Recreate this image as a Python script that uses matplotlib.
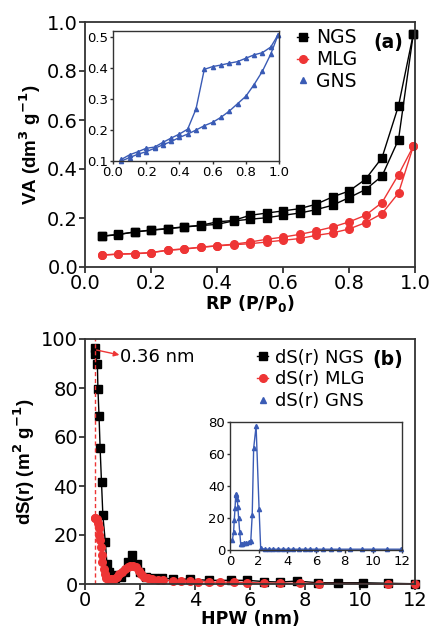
import numpy as np
import matplotlib
matplotlib.use("Agg")
import matplotlib.pyplot as plt
from matplotlib.ticker import FormatStrFormatter

plt.rcParams['font.family'] = ['DejaVu Sans']

# ---- (a) isotherms ----
rp_ads = [0.05, 0.1, 0.15, 0.2, 0.25, 0.3, 0.35, 0.4, 0.45, 0.5, 0.55, 0.6,
          0.65, 0.7, 0.75, 0.8, 0.85, 0.9, 0.95, 0.995]
rp_des = [0.995, 0.95, 0.9, 0.85, 0.8, 0.75, 0.7, 0.65, 0.6, 0.55, 0.5, 0.45,
          0.4, 0.35, 0.3, 0.25, 0.2, 0.15, 0.1, 0.05]

ngs_ads = [0.125, 0.132, 0.143, 0.150, 0.156, 0.163, 0.169, 0.174, 0.188, 0.195,
           0.201, 0.211, 0.220, 0.234, 0.252, 0.283, 0.316, 0.371, 0.520, 0.952]
ngs_des = [0.952, 0.658, 0.446, 0.358, 0.310, 0.286, 0.256, 0.238, 0.229, 0.220,
           0.211, 0.190, 0.184, 0.170, 0.164, 0.157, 0.151, 0.143, 0.133, 0.126]

mlg_ads = [0.048, 0.052, 0.054, 0.058, 0.068, 0.073, 0.080, 0.086, 0.091, 0.095,
           0.102, 0.109, 0.116, 0.129, 0.139, 0.155, 0.181, 0.218, 0.302, 0.493]
mlg_des = [0.493, 0.377, 0.263, 0.211, 0.184, 0.163, 0.147, 0.133, 0.122, 0.113,
           0.102, 0.093, 0.087, 0.081, 0.074, 0.069, 0.059, 0.055, 0.053, 0.049]

gns_ads = [0.100, 0.111, 0.122, 0.130, 0.141, 0.152, 0.163, 0.176, 0.187, 0.200,
           0.214, 0.225, 0.241, 0.261, 0.285, 0.309, 0.347, 0.390, 0.445, 0.508]
gns_des = [0.508, 0.468, 0.450, 0.443, 0.432, 0.421, 0.416, 0.410, 0.405, 0.396,
           0.268, 0.203, 0.187, 0.174, 0.160, 0.145, 0.141, 0.130, 0.120, 0.105]

# ---- (b) pore size distributions ----
ngs_w = [0.36, 0.37, 0.45, 0.47, 0.51, 0.55, 0.6, 0.65, 0.74, 0.8, 0.87, 1.0,
         1.1, 1.3, 1.45, 1.57, 1.72, 1.9, 2.0, 2.2, 2.5, 2.8, 3.2, 3.8, 4.5,
         5.3, 5.9, 6.5, 7.1, 7.7, 8.48, 9.21, 10.12, 11.03, 12.0]
ngs_s = [96.3, 93.9, 89.9, 79.6, 68.7, 55.4, 41.5, 28, 17, 8, 5, 3.5,
         2.5, 3, 5, 9, 12, 8, 5, 3, 2.5, 2.5, 2, 2, 1.5,
         1.5, 1.5, 1, 0.8, 1.2, 0.5, 0.5, 0.5, 0.3, 0.1]

mlg_w = [0.36, 0.38, 0.42, 0.47, 0.5, 0.52, 0.55, 0.58, 0.6, 0.63, 0.68, 0.72,
         0.78, 0.85, 0.95, 1.05, 1.15, 1.25, 1.35, 1.45, 1.55, 1.65, 1.75, 1.85,
         1.95, 2.05, 2.15, 2.3, 2.45, 2.65, 2.85, 3.2, 3.5, 3.8, 4.1, 4.5, 4.9,
         5.4, 5.9, 6.5, 7.1, 7.8, 8.5, 11.0, 12.0]
mlg_s = [27, 27, 26.5, 25, 23, 20, 18, 15, 12, 9, 6, 4,
         2.5, 2, 2, 2.2, 3, 4, 5, 6, 7, 7.5, 7.5, 7,
         5.5, 4, 3, 2.5, 2, 1.8, 1.6, 1.3, 1.2, 1.1, 1.0, 0.8, 0.7,
         0.8, 0.6, 0.4, 0.3, 0.3, 0.2, 0.1, 0.0]

gns_w = [0.16, 0.25, 0.3, 0.35, 0.4, 0.45, 0.5, 0.55, 0.6, 0.68, 0.75, 0.85,
         1.0, 1.15, 1.3, 1.45, 1.55, 1.65, 1.82, 2.03, 2.14, 2.44, 2.72, 3.02,
         3.37, 3.72, 4.02, 4.42, 4.84, 5.23, 5.58, 5.98, 6.47, 7.02, 7.63, 8.37,
         9.19, 10.0, 10.93, 11.91]
gns_s = [6, 11, 19, 26, 34.5, 35, 32, 27, 20, 11, 3.5, 4,
         4.2, 4.5, 5, 5.5, 22, 63.5, 77.5, 25.5, 1, 0.5, 0.5, 0.5,
         0.5, 0.5, 0.5, 0.5, 0.5, 0.5, 0.5, 0.5, 0.5, 0.5, 0.5, 0.5,
         0.5, 0.5, 0.5, 0.5]

black = '#000000'
red = '#ee3535'
blue = '#3a5bb5'
spine_c = '#333333'
ylab_font = ['Liberation Sans', 'DejaVu Sans']

W, H = 430, 633
fig = plt.figure(figsize=(W / 100, H / 100), dpi=100)


def box(l, t, r, b):
    return [l / W, 1 - b / H, (r - l) / W, (b - t) / H]


def style(ax, size, lw=1.3):
    for s in ax.spines.values():
        s.set_color(spine_c)
        s.set_linewidth(lw)
    ax.tick_params(direction='out', length=4, width=lw, colors=spine_c,
                   labelsize=size, labelcolor='black', pad=1)


# (a)
ax1 = fig.add_axes(box(85, 22, 415, 267))
ax1.plot(rp_ads, ngs_ads, '-s', color=black, ms=5.5, lw=1, clip_on=False, label='NGS')
ax1.plot(rp_des, ngs_des, '-s', color=black, ms=5.5, lw=1, clip_on=False)
ax1.plot(rp_ads, mlg_ads, '-o', color=red, ms=5.5, lw=1, clip_on=False, label='MLG')
ax1.plot(rp_des, mlg_des, '-o', color=red, ms=5.5, lw=1, clip_on=False)
ax1.plot([], [], '^', color=blue, ms=4, label='GNS')
ax1.set_xlim(0, 1.0)
ax1.set_ylim(0, 1.0)
ax1.set_xticks(np.arange(0, 1.01, 0.2))
ax1.set_yticks(np.arange(0, 1.01, 0.2))
ax1.xaxis.set_major_formatter(FormatStrFormatter('%.1f'))
ax1.yaxis.set_major_formatter(FormatStrFormatter('%.1f'))
style(ax1, 14)
ax1.set_xlabel('RP (P/P$_\\mathbf{0}$)', fontsize=12.5, fontweight='bold', labelpad=0)
ax1.set_ylabel('VA (dm$^\\mathbf{3}$ g$^\\mathbf{-1}$)', fontsize=13.5, fontweight='bold',
               labelpad=3, family=ylab_font)
ax1.legend(loc='upper left', bbox_to_anchor=(0.62, 1.005), frameon=False, fontsize=13.5,
           handlelength=0.6, handletextpad=0.4, borderaxespad=0, labelspacing=0.15)
ax1.text(0.965, 0.955, '(a)', transform=ax1.transAxes, ha='right', va='top',
         fontsize=13.5, fontweight='bold')

ins1 = fig.add_axes(box(113, 31, 279, 161))
ins1.plot(rp_ads, gns_ads, '-^', color=blue, ms=3, lw=1, clip_on=False)
ins1.plot(rp_des, gns_des, '-^', color=blue, ms=3, lw=1, clip_on=False)
ins1.set_xlim(0, 1.0)
ins1.set_ylim(0.1, 0.52)
ins1.set_xticks(np.arange(0, 1.01, 0.2))
ins1.set_yticks(np.arange(0.1, 0.51, 0.1))
ins1.xaxis.set_major_formatter(FormatStrFormatter('%.1f'))
ins1.yaxis.set_major_formatter(FormatStrFormatter('%.1f'))
style(ins1, 9.5, lw=1)
ins1.tick_params(length=2.5)

# (b)
ax2 = fig.add_axes(box(85, 339, 415, 584))
ax2.plot(ngs_w, ngs_s, '-s', color=black, ms=5.5, lw=1, clip_on=False, label='dS(r) NGS')
ax2.plot(mlg_w, mlg_s, '-o', color=red, ms=5.5, lw=1, clip_on=False, label='dS(r) MLG')
ax2.plot([], [], '^', color=blue, ms=4, label='dS(r) GNS')
ax2.axvline(0.36, color=red, ls='--', lw=1, dashes=(3, 2))
ax2.annotate('', xy=(1.25, 93.5), xytext=(0.42, 95.5),
             arrowprops=dict(arrowstyle='-|>', color=red, lw=1, mutation_scale=8,
                             shrinkA=0, shrinkB=0))
ax2.text(1.27, 92.5, '0.36 nm', fontsize=13, va='center', ha='left')
ax2.set_xlim(0, 12)
ax2.set_ylim(0, 100)
ax2.set_xticks(np.arange(0, 12.1, 2))
ax2.set_yticks(np.arange(0, 101, 20))
style(ax2, 14)
ax2.set_xlabel('HPW (nm)', fontsize=12.5, fontweight='bold', labelpad=0)
ax2.set_ylabel('dS(r) (m$^\\mathbf{2}$ g$^\\mathbf{-1}$)', fontsize=13.5, fontweight='bold',
               labelpad=3, family=ylab_font)
ax2.legend(loc='upper left', bbox_to_anchor=(0.50, 0.99), frameon=False, fontsize=13,
           handlelength=0.6, handletextpad=0.4, borderaxespad=0, labelspacing=0.2)
ax2.text(0.965, 0.955, '(b)', transform=ax2.transAxes, ha='right', va='top',
         fontsize=13.5, fontweight='bold')

ins2 = fig.add_axes(box(230, 422, 402, 550))
ins2.plot(gns_w, gns_s, '-^', color=blue, ms=3, lw=1, clip_on=False)
ins2.set_xlim(0, 12)
ins2.set_ylim(0, 80)
ins2.set_xticks(np.arange(0, 12.1, 2))
ins2.set_yticks(np.arange(0, 81, 20))
style(ins2, 9.5, lw=1)
ins2.tick_params(length=2.5)

fig.savefig('out.png', dpi=100)
